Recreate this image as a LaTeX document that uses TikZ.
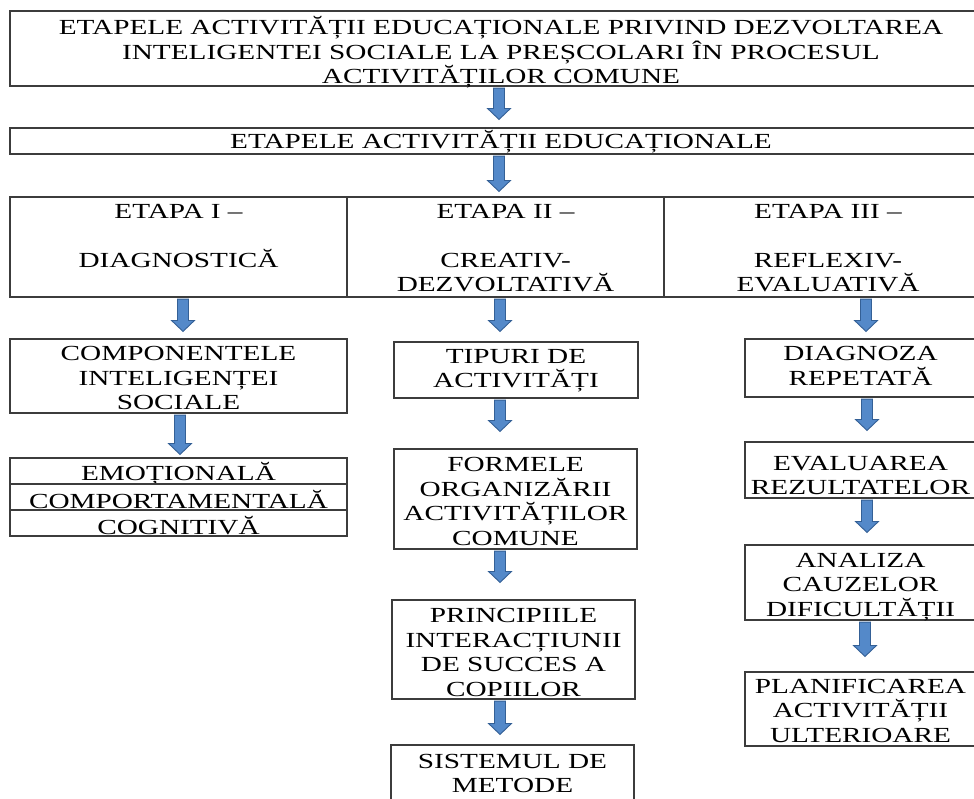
\documentclass[tikz,border=0pt]{standalone}
\usepackage{fontspec}
\setmainfont{Liberation Serif}[FakeStretch=1.36]
\usetikzlibrary{calc}
\definecolor{arrfill}{RGB}{84,137,201}
\definecolor{arrline}{RGB}{52,96,150}
\definecolor{boxline}{RGB}{60,60,60}
\newcommand\boxfontsel{\fontsize{21.5}{24.5}\selectfont\lineskiplimit=-30pt\relax}
\tikzset{
  box/.style={draw=boxline, line width=1.1pt, rectangle, inner sep=0pt},
  txt/.style={inner sep=0pt, align=center, font=\boxfontsel},
  barrowstyle/.style={fill=arrfill, draw=arrline, line width=0.9pt, line join=miter}
}
% #1 name, #2 cx, #3 cy, #4 width, #5 height, #6 text shift down, #7 text
\newcommand\bx[7]{%
  \node[box, minimum width=#4pt, minimum height=#5pt] (#1) at (#2,#3) {};
  \node[txt] (#1t) at ({#2},{#3+#6}) {#7};}
\newcommand\barrow[4]{%
  \path[barrowstyle] let \p1=(#1.south), \p2=(#2.north) in
    ({#3pt-5.5pt},{\y1-1.5pt}) -- ({#3pt+5.5pt},{\y1-1.5pt}) --
    ({#3pt+5.5pt},{\y2+#4pt+11pt}) -- ({#3pt+11.5pt},{\y2+#4pt+11pt}) --
    ({#3pt},{\y2+#4pt}) -- ({#3pt-11.5pt},{\y2+#4pt+11pt}) --
    ({#3pt-5.5pt},{\y2+#4pt+11pt}) -- cycle;}
\begin{document}
\begin{tikzpicture}[x=1pt,y=-1pt]
\useasboundingbox (0,0) rectangle (974,798);
\clip (0,0) rectangle (974,798);
\fill[white] (0,0) rectangle (974,798);
% top
\bx{title}{501}{48.5}{982}{75}{4}
  {ETAPELE ACTIVITĂȚII EDUCAȚIONALE PRIVIND DEZVOLTAREA\\INTELIGENTEI SOCIALE LA PREȘCOLARI ÎN PROCESUL\\ACTIVITĂȚILOR COMUNE}
\bx{stages}{501}{141}{982}{26}{0.5}{ETAPELE ACTIVITĂȚII EDUCAȚIONALE}
% stage row
\bx{c1}{178.5}{247}{337}{100}{1}{ETAPA I –\\\strut\\DIAGNOSTICĂ\\\mbox{}}
\bx{c2}{505.5}{247}{317}{100}{1}{ETAPA II –\\\strut\\CREATIV-\\DEZVOLTATIVĂ}
\bx{c3}{828}{247}{328}{100}{1}{ETAPA III –\\\strut\\REFLEXIV-\\EVALUATIVĂ}
% column 1
\bx{comp}{178.5}{376}{337}{74}{2}{COMPONENTELE\\INTELIGENȚEI\\SOCIALE}
\bx{emo}{178.5}{471}{337}{26}{2.5}{EMOȚIONALĂ}
\bx{comport}{178.5}{497}{337}{26}{2.5}{COMPORTAMENTALĂ}
\bx{cogn}{178.5}{523}{337}{26}{2.5}{COGNITIVĂ}
% column 2
\bx{tip}{516}{370}{244}{56}{0.5}{TIPURI DE\\ACTIVITĂȚI}
\bx{forme}{515.5}{499}{243}{100}{2.5}{FORMELE\\ORGANIZĂRII\\ACTIVITĂȚILOR\\COMUNE}
\bx{princ}{513.5}{649.5}{243}{99}{3}{PRINCIPIILE\\INTERACȚIUNII\\DE SUCCES A\\COPIILOR}
\bx{sist}{512.5}{772.5}{243}{55}{1}{SISTEMUL DE\\METODE}
% column 3
\bx{diag}{860.5}{368}{231}{58}{-2}{DIAGNOZA\\REPETATĂ}
\bx{eval}{860.5}{470}{231}{56}{5.5}{EVALUAREA\\REZULTATELOR}
\bx{anal}{860.5}{582.5}{231}{75}{4.5}{ANALIZA\\CAUZELOR\\DIFICULTĂȚII}
\bx{plan}{860.5}{709}{231}{74}{1.5}{PLANIFICAREA\\ACTIVITĂȚII\\ULTERIOARE}
% arrows
\barrow{title}{stages}{499}{8}
\barrow{stages}{c2}{499}{5}
\barrow{c1}{comp}{183}{7}
\barrow{comp}{emo}{180}{3}
\barrow{c2}{tip}{500}{10}
\barrow{tip}{forme}{500}{17}
\barrow{forme}{princ}{500}{17}
\barrow{princ}{sist}{500}{10}
\barrow{c3}{diag}{866}{7}
\barrow{diag}{eval}{867}{11}
\barrow{eval}{anal}{867}{12}
\barrow{anal}{plan}{865}{15}
\end{tikzpicture}
\end{document}
